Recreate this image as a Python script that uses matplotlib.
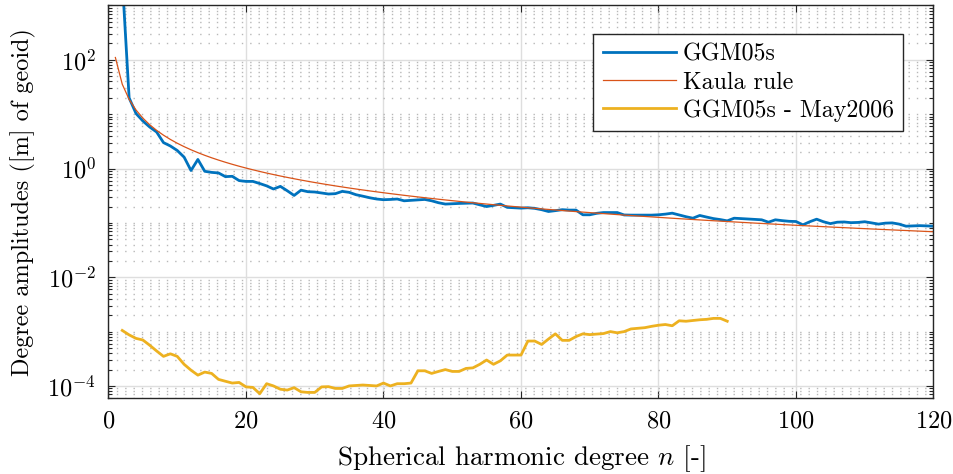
import numpy as np
import matplotlib
matplotlib.use('Agg')
import matplotlib.pyplot as plt
from matplotlib.ticker import FixedLocator, LogLocator, NullFormatter

plt.rcParams['font.family'] = 'serif'
plt.rcParams['font.serif'] = ['cmr10']
plt.rcParams['mathtext.fontset'] = 'cm'
plt.rcParams['axes.formatter.use_mathtext'] = True
plt.rcParams['font.size'] = 17

# degree amplitudes in metres of geoid
n_ggm = np.arange(2, 121)
ggm05s = [3100, 20, 10.3, 7.5, 5.8, 4.7, 3.0, 2.6, 2.15, 1.62,
          0.92, 1.47, 0.89, 0.85, 0.83, 0.71, 0.72, 0.60, 0.58, 0.58,
          0.53, 0.48, 0.42, 0.47, 0.39, 0.32, 0.40, 0.375, 0.37, 0.355,
          0.34, 0.345, 0.38, 0.365, 0.33, 0.31, 0.29, 0.275, 0.267, 0.27,
          0.275, 0.255, 0.26, 0.265, 0.27, 0.255, 0.235, 0.222, 0.225, 0.228,
          0.23, 0.232, 0.215, 0.20, 0.21, 0.222, 0.193, 0.19, 0.187, 0.19,
          0.185, 0.175, 0.162, 0.168, 0.175, 0.172, 0.172, 0.141, 0.141, 0.15,
          0.155, 0.155, 0.155, 0.14, 0.139, 0.139, 0.139, 0.139, 0.141, 0.145,
          0.151, 0.14, 0.13, 0.122, 0.137, 0.128, 0.12, 0.115, 0.109, 0.122,
          0.12, 0.118, 0.116, 0.114, 0.103, 0.114, 0.11, 0.107, 0.106, 0.092,
          0.105, 0.117, 0.105, 0.097, 0.103, 0.104, 0.101, 0.102, 0.105, 0.1,
          0.095, 0.099, 0.1, 0.095, 0.087, 0.088, 0.089, 0.088, 0.087]

n_kaula = np.arange(1, 121)
kaula = [110.5, 35.65, 18.75, 11.96, 8.462, 6.388, 5.041, 4.109, 3.432, 2.923,
         2.528, 2.215, 1.961, 1.752, 1.578, 1.431, 1.306, 1.197, 1.103, 1.021,
         0.9484, 0.8840, 0.8266, 0.7751, 0.7288, 0.6869, 0.6489, 0.6142, 0.5825, 0.5535,
         0.5268, 0.5022, 0.4794, 0.4583, 0.4387, 0.4205, 0.4035, 0.3876, 0.3727, 0.3588,
         0.3457, 0.3334, 0.3217, 0.3108, 0.3005, 0.2907, 0.2814, 0.2726, 0.2643, 0.2564,
         0.2489, 0.2417, 0.2349, 0.2284, 0.2221, 0.2162, 0.2105, 0.2051, 0.1999, 0.1949,
         0.1901, 0.1855, 0.1811, 0.1769, 0.1728, 0.1689, 0.1651, 0.1614, 0.1579, 0.1546,
         0.1513, 0.1482, 0.1451, 0.1422, 0.1393, 0.1366, 0.1339, 0.1314, 0.1289, 0.1265,
         0.1241, 0.1218, 0.1196, 0.1175, 0.1154, 0.1134, 0.1115, 0.1096, 0.1077, 0.1059,
         0.1042, 0.1025, 0.1008, 0.0992, 0.0977, 0.0961, 0.0947, 0.0932, 0.0918, 0.0904,
         0.0891, 0.0878, 0.0865, 0.0853, 0.0840, 0.0828, 0.0817, 0.0806, 0.0794, 0.0784,
         0.0773, 0.0763, 0.0753, 0.0743, 0.0733, 0.0724, 0.0714, 0.0705, 0.0696, 0.0688]

n_diff = np.arange(2, 91)
diff_may2006 = [1.05e-3, 8.7e-4, 7.5e-4, 7.0e-4, 5.6e-4, 4.4e-4, 3.5e-4, 3.9e-4, 3.5e-4, 2.5e-4,
                1.95e-4, 1.58e-4, 1.8e-4, 1.7e-4, 1.32e-4, 1.22e-4, 1.13e-4, 1.16e-4, 9.6e-5, 9.4e-5,
                7.2e-5, 1.1e-4, 1.0e-4, 8.7e-5, 8.4e-5, 9.3e-5, 7.8e-5, 7.6e-5, 7.6e-5, 9.6e-5,
                9.7e-5, 9.0e-5, 9.0e-5, 1.0e-4, 1.02e-4, 1.04e-4, 1.02e-4, 1.0e-4, 1.13e-4, 1.0e-4,
                1.1e-4, 1.1e-4, 1.13e-4, 1.9e-4, 1.9e-4, 1.7e-4, 1.85e-4, 2.0e-4, 1.85e-4, 1.85e-4,
                2.1e-4, 2.15e-4, 2.5e-4, 3.0e-4, 2.5e-4, 2.9e-4, 3.7e-4, 3.7e-4, 3.7e-4, 6.7e-4,
                6.7e-4, 5.8e-4, 7.3e-4, 9.1e-4, 6.9e-4, 6.9e-4, 8.1e-4, 9.1e-4, 8.8e-4, 9.0e-4,
                9.2e-4, 1.0e-3, 9.5e-4, 1.0e-3, 1.12e-3, 1.15e-3, 1.18e-3, 1.25e-3, 1.31e-3, 1.35e-3,
                1.28e-3, 1.58e-3, 1.55e-3, 1.6e-3, 1.65e-3, 1.68e-3, 1.75e-3, 1.75e-3, 1.55e-3]

fig = plt.figure(figsize=(9.54, 4.74), dpi=100)
ax = fig.add_axes([108.5/954, 1-398/474, 825/954, 392.5/474])

ax.semilogy(n_ggm, ggm05s, color='#0072BD', lw=2.0, label='GGM05s')
ax.semilogy(n_kaula, kaula, color='#D95319', lw=0.9, label='Kaula rule')
ax.semilogy(n_diff, diff_may2006, color='#EDB120', lw=2.0, label='GGM05s - May2006')

ax.set_xlim(0, 120)
ax.set_ylim(6e-5, 1e3)
ax.set_xticks(np.arange(0, 121, 20))
ax.yaxis.set_major_locator(FixedLocator([1e-4, 1e-2, 1e0, 1e2]))
ax.yaxis.set_minor_locator(LogLocator(base=10, subs=np.arange(1, 10), numticks=50))
ax.yaxis.set_minor_formatter(NullFormatter())

ax.grid(True, which='major', color='#dedede', lw=1.0, ls='-')
ax.grid(True, which='minor', axis='y', color='#b8b8b8', lw=1.0, ls=(0, (1, 5)))
ax.set_axisbelow(True)

ax.tick_params(which='both', direction='in', top=True, right=True, color='#262626')
ax.tick_params(which='major', length=5, width=0.8, pad=9, labelsize=17.5)
ax.tick_params(which='minor', length=3, width=0.8)
for s in ax.spines.values():
    s.set_color('#262626')
    s.set_linewidth(1.0)

ax.set_xlabel('Spherical harmonic degree $n$ [-]', fontsize=19.5, labelpad=8)
ax.set_ylabel('Degree amplitudes ([m] of geoid)', fontsize=17.5, labelpad=8)

leg = ax.legend(loc='upper right', bbox_to_anchor=(0.9634, 0.9274), borderaxespad=0,
                fancybox=False, framealpha=1, edgecolor='#262626', fontsize=17.2,
                handlelength=3.05, handletextpad=0.3, labelspacing=0.24, borderpad=0.4)
leg.get_frame().set_linewidth(1.0)

fig.savefig('out.png', dpi=100)
